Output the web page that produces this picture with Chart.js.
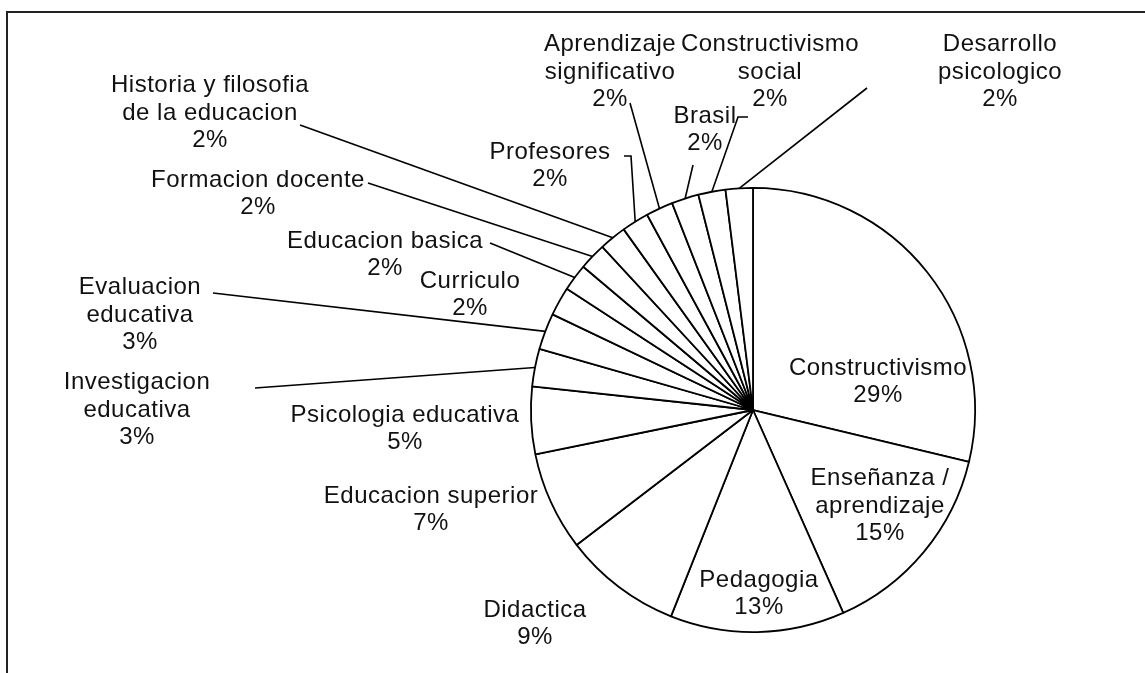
<!DOCTYPE html>
<html>
<head>
<meta charset="utf-8">
<script src="https://cdn.jsdelivr.net/npm/chart.js@4.4.0/dist/chart.umd.min.js"></script>
<style>
  body { margin: 0; background: #fff; }
  canvas { display: block; }
</style>
</head>
<body>
<canvas id="myChart" width="1145" height="673"></canvas>
<script>
// keywords, in the order the slices run clockwise from 12 o'clock
const categories = [
    "Constructivismo",
    "Enseñanza /\naprendizaje",
    "Pedagogia",
    "Didactica",
    "Educacion superior",
    "Psicologia educativa",
    "Investigacion\neducativa",
    "Evaluacion\neducativa",
    "Curriculo",
    "Educacion basica",
    "Formacion docente",
    "Historia y filosofia\nde la educacion",
    "Profesores",
    "Aprendizaje\nsignificativo",
    "Brasil",
    "Constructivismo\nsocial",
    "Desarrollo\npsicologico"
]

// share of each keyword, percent
const shares = [28.8, 14.6, 12.7, 8.6, 7.2, 4.9, 2.75, 2.65, 2.1, 1.98, 1.98, 1.98, 1.98, 1.98, 1.98, 1.98, 1.98]

// label layout: centre of each text block, and leader line points from the label to the slice
const labelPos = [
    [878, 382], [880, 506], [759, 594], [535, 624], [431, 510], [405, 429],
    [137, 410], [140, 315], [470, 295], [385, 255], [258, 194], [210, 113],
    [550, 166], [610, 72], [705, 130], [770, 72], [1000, 72]
]
const leaders = [
    null, null, null, null, null, null,
    [[255, 388]], [[213, 293]], null, [[490, 243]], [[368, 183]], [[300, 125]],
    [[624, 156], [631, 156]], [[630, 103]], [[693, 165]], [[748, 117], [738, 117]], [[867, 88]]
]

const FONT = '24px "Liberation Sans", Arial, sans-serif'
const LINE_H = 27.5

const frame = {
    id: 'frame',
    beforeDraw(chart){
        let ctx = chart.ctx
        ctx.save()
        ctx.fillStyle = '#fff'
        ctx.fillRect(0, 0, chart.width, chart.height)
        ctx.fillStyle = '#222'
        ctx.fillRect(6, 11, chart.width, 2)
        ctx.fillRect(6, 11, 2, chart.height)
        ctx.restore()
    }
}

const pieLabels = {
    id: 'pieLabels',
    afterDatasetsDraw(chart){
        let ctx = chart.ctx
        let meta = chart.getDatasetMeta(0)
        let total = shares.reduce((a, b) => a + b, 0)
        ctx.save()
        ctx.font = FONT
        ctx.letterSpacing = '0.5px'
        ctx.fillStyle = '#111'
        ctx.strokeStyle = '#000'
        ctx.lineWidth = 1.6
        ctx.textAlign = 'center'
        ctx.textBaseline = 'middle'
        meta.data.forEach((arc, i) => {
            let lines = categories[i].split('\n')
            lines.push(Math.round(shares[i] / total * 100) + '%')
            let [lx, ly] = labelPos[i]
            let y0 = ly - (lines.length - 1) * LINE_H / 2
            lines.forEach((t, k) => ctx.fillText(t, lx, y0 + k * LINE_H))

            if (leaders[i]) {
                let mid = (arc.startAngle + arc.endAngle) / 2
                let ex = arc.x + Math.cos(mid) * arc.outerRadius
                let ey = arc.y + Math.sin(mid) * arc.outerRadius
                ctx.beginPath()
                ctx.moveTo(leaders[i][0][0], leaders[i][0][1])
                leaders[i].slice(1).forEach(p => ctx.lineTo(p[0], p[1]))
                ctx.lineTo(ex, ey)
                ctx.stroke()
            }
        })
        ctx.restore()
    }
}

let config = {
    type: 'pie',
    data: {
        labels: categories,
        datasets: [{
            data: shares,
            backgroundColor: '#ffffff',
            borderColor: '#000000',
            borderWidth: 1.8
        }]
    },
    options: {
        responsive: false,
        animation: false,
        layout: { padding: { left: 530, right: 169, top: 187, bottom: 40 } },
        plugins: {
            legend: { display: false },
            tooltip: { enabled: false }
        }
    },
    plugins: [frame, pieLabels]
}

new Chart(document.getElementById('myChart'), config)
</script>
</body>
</html>
